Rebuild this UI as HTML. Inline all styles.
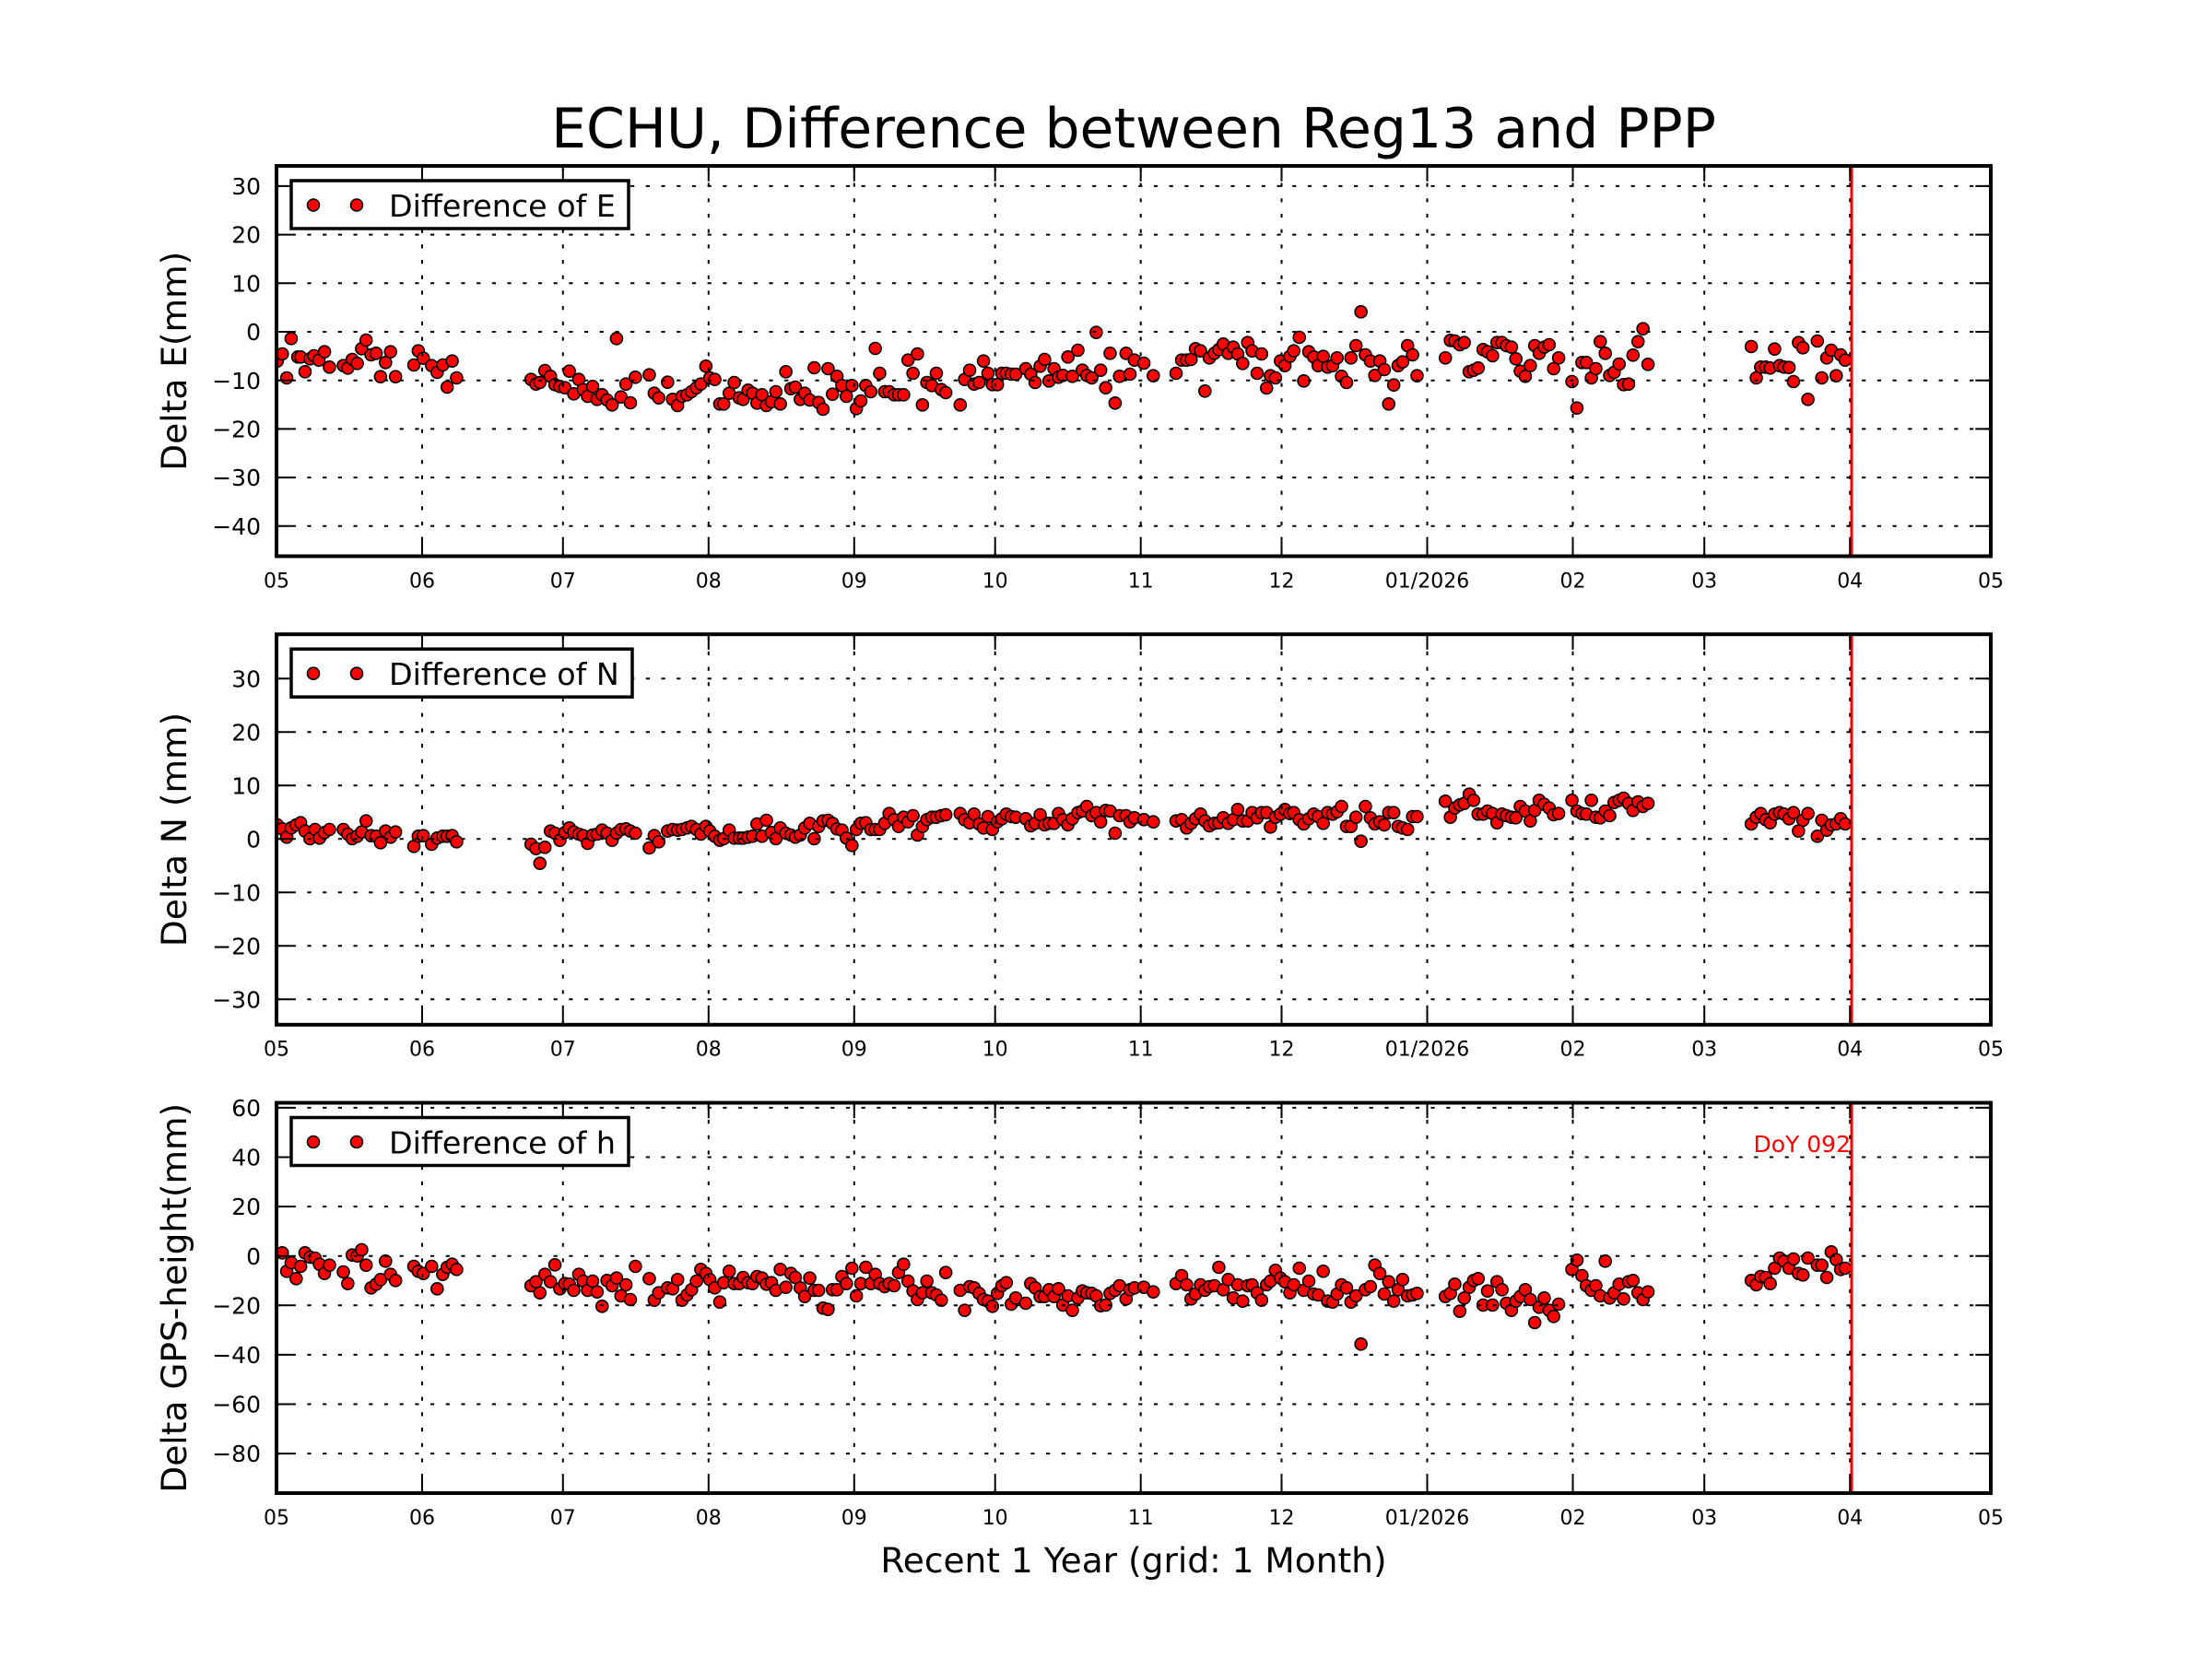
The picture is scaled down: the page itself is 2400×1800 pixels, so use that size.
<!DOCTYPE html>
<html><head><meta charset="utf-8"><style>
html,body{margin:0;padding:0;background:#fff;}
svg{display:block;font-family:"DejaVu Sans","Liberation Sans",sans-serif;}
</style></head><body>
<svg width="2400" height="1800" viewBox="0 0 2400 1800" xmlns="http://www.w3.org/2000/svg">
<defs>
<ellipse id="m" cx="0" cy="0" rx="10.79" ry="19.5" fill="#ff0000" stroke="#000" stroke-width="1.6" vector-effect="non-scaling-stroke"/>
<clipPath id="c1"><rect x="300" y="180" width="1860" height="423.5"/></clipPath>
<clipPath id="c2"><rect x="300" y="688.2" width="1860" height="423.6"/></clipPath>
<clipPath id="c3"><rect x="300" y="1196.5" width="1860" height="423.5"/></clipPath>
</defs>
<rect width="2400" height="1800" fill="#fff"/>

<text x="1230" y="160" font-size="60" text-anchor="middle">ECHU, Difference between Reg13 and PPP</text>

<!-- ================= PANEL 1 (E) ================= -->
<g clip-path="url(#c1)">
<g transform="translate(290 300) scale(0.60241 0.33333)">
<use href="#m" x="18" y="275"/><use href="#m" x="27" y="252"/><use href="#m" x="35" y="330"/><use href="#m" x="43" y="202"/><use href="#m" x="55" y="262"/><use href="#m" x="60" y="262"/><use href="#m" x="68" y="310"/><use href="#m" x="77" y="268"/><use href="#m" x="84" y="258"/><use href="#m" x="93" y="272"/><use href="#m" x="103" y="245"/><use href="#m" x="112" y="295"/><use href="#m" x="137" y="290"/><use href="#m" x="145" y="298"/><use href="#m" x="153" y="270"/><use href="#m" x="162" y="283"/><use href="#m" x="170" y="235"/><use href="#m" x="178" y="207"/><use href="#m" x="187" y="255"/><use href="#m" x="196" y="250"/><use href="#m" x="204" y="326"/><use href="#m" x="213" y="280"/><use href="#m" x="222" y="245"/><use href="#m" x="231" y="326"/>
<use href="#m" x="264" y="288"/><use href="#m" x="272" y="242"/><use href="#m" x="281" y="266"/><use href="#m" x="296" y="290"/><use href="#m" x="306" y="312"/><use href="#m" x="316" y="288"/><use href="#m" x="324" y="360"/><use href="#m" x="333" y="275"/><use href="#m" x="341" y="330"/>
<use href="#m" x="475" y="335"/><use href="#m" x="484" y="350"/><use href="#m" x="491" y="345"/><use href="#m" x="500" y="306"/><use href="#m" x="510" y="325"/><use href="#m" x="518" y="352"/><use href="#m" x="527" y="358"/><use href="#m" x="536" y="362"/><use href="#m" x="544" y="308"/><use href="#m" x="552" y="382"/><use href="#m" x="561" y="335"/><use href="#m" x="569" y="368"/><use href="#m" x="577" y="390"/><use href="#m" x="586" y="358"/><use href="#m" x="594" y="400"/><use href="#m" x="603" y="385"/><use href="#m" x="612" y="402"/><use href="#m" x="621" y="418"/><use href="#m" x="629" y="202"/><use href="#m" x="637" y="392"/><use href="#m" x="646" y="350"/><use href="#m" x="654" y="411"/><use href="#m" x="663" y="328"/><use href="#m" x="688" y="320"/><use href="#m" x="697" y="380"/><use href="#m" x="705" y="395"/><use href="#m" x="721" y="344"/><use href="#m" x="730" y="400"/><use href="#m" x="739" y="420"/><use href="#m" x="747" y="390"/><use href="#m" x="756" y="385"/><use href="#m" x="764" y="375"/><use href="#m" x="773" y="362"/><use href="#m" x="781" y="350"/><use href="#m" x="790" y="292"/><use href="#m" x="797" y="330"/><use href="#m" x="806" y="335"/><use href="#m" x="815" y="415"/><use href="#m" x="822" y="415"/><use href="#m" x="832" y="380"/><use href="#m" x="841" y="345"/><use href="#m" x="850" y="395"/><use href="#m" x="857" y="400"/><use href="#m" x="866" y="370"/><use href="#m" x="874" y="380"/><use href="#m" x="882" y="412"/><use href="#m" x="891" y="385"/><use href="#m" x="899" y="420"/><use href="#m" x="908" y="408"/><use href="#m" x="916" y="375"/><use href="#m" x="924" y="415"/><use href="#m" x="934" y="310"/><use href="#m" x="943" y="365"/><use href="#m" x="951" y="360"/><use href="#m" x="960" y="400"/><use href="#m" x="968" y="380"/><use href="#m" x="977" y="402"/><use href="#m" x="985" y="297"/><use href="#m" x="993" y="410"/><use href="#m" x="1001" y="432"/><use href="#m" x="1010" y="300"/><use href="#m" x="1018" y="383"/><use href="#m" x="1026" y="325"/><use href="#m" x="1035" y="355"/><use href="#m" x="1043" y="390"/><use href="#m" x="1053" y="355"/><use href="#m" x="1061" y="430"/><use href="#m" x="1069" y="405"/><use href="#m" x="1078" y="355"/><use href="#m" x="1087" y="375"/><use href="#m" x="1095" y="234"/><use href="#m" x="1103" y="315"/><use href="#m" x="1112" y="375"/><use href="#m" x="1120" y="375"/><use href="#m" x="1129" y="385"/><use href="#m" x="1137" y="385"/><use href="#m" x="1146" y="385"/><use href="#m" x="1154" y="272"/><use href="#m" x="1163" y="315"/><use href="#m" x="1171" y="252"/><use href="#m" x="1180" y="418"/><use href="#m" x="1188" y="345"/><use href="#m" x="1197" y="355"/><use href="#m" x="1205" y="315"/><use href="#m" x="1214" y="368"/><use href="#m" x="1222" y="378"/><use href="#m" x="1248" y="418"/><use href="#m" x="1256" y="335"/><use href="#m" x="1265" y="305"/><use href="#m" x="1273" y="350"/><use href="#m" x="1282" y="345"/><use href="#m" x="1290" y="275"/><use href="#m" x="1298" y="315"/><use href="#m" x="1306" y="352"/><use href="#m" x="1315" y="352"/><use href="#m" x="1323" y="315"/><use href="#m" x="1331" y="315"/><use href="#m" x="1340" y="318"/><use href="#m" x="1348" y="318"/><use href="#m" x="1366" y="300"/><use href="#m" x="1375" y="318"/><use href="#m" x="1383" y="345"/><use href="#m" x="1392" y="292"/><use href="#m" x="1400" y="270"/><use href="#m" x="1408" y="340"/><use href="#m" x="1417" y="300"/><use href="#m" x="1425" y="328"/><use href="#m" x="1433" y="322"/><use href="#m" x="1442" y="262"/><use href="#m" x="1450" y="325"/><use href="#m" x="1460" y="240"/><use href="#m" x="1468" y="305"/><use href="#m" x="1476" y="322"/><use href="#m" x="1485" y="330"/><use href="#m" x="1493" y="182"/><use href="#m" x="1501" y="305"/><use href="#m" x="1510" y="362"/><use href="#m" x="1518" y="250"/><use href="#m" x="1527" y="412"/><use href="#m" x="1535" y="325"/>
</g>
<g transform="translate(1220 300) scale(0.60241 0.33333)">
<use href="#m" x="3" y="250"/><use href="#m" x="10" y="318"/><use href="#m" x="18" y="272"/><use href="#m" x="35" y="282"/><use href="#m" x="52" y="323"/><use href="#m" x="93" y="315"/><use href="#m" x="103" y="272"/><use href="#m" x="112" y="272"/><use href="#m" x="120" y="270"/><use href="#m" x="128" y="235"/><use href="#m" x="137" y="242"/><use href="#m" x="145" y="373"/><use href="#m" x="153" y="265"/><use href="#m" x="162" y="250"/><use href="#m" x="170" y="238"/><use href="#m" x="178" y="220"/><use href="#m" x="187" y="250"/><use href="#m" x="196" y="230"/><use href="#m" x="204" y="252"/><use href="#m" x="213" y="283"/><use href="#m" x="222" y="215"/><use href="#m" x="230" y="242"/><use href="#m" x="239" y="315"/><use href="#m" x="247" y="252"/><use href="#m" x="256" y="363"/><use href="#m" x="263" y="323"/><use href="#m" x="272" y="330"/><use href="#m" x="281" y="275"/><use href="#m" x="289" y="290"/><use href="#m" x="298" y="260"/><use href="#m" x="305" y="242"/><use href="#m" x="315" y="198"/><use href="#m" x="323" y="340"/><use href="#m" x="332" y="245"/><use href="#m" x="341" y="262"/><use href="#m" x="349" y="290"/><use href="#m" x="358" y="260"/><use href="#m" x="366" y="295"/><use href="#m" x="375" y="290"/><use href="#m" x="383" y="265"/><use href="#m" x="391" y="325"/><use href="#m" x="400" y="345"/><use href="#m" x="408" y="265"/><use href="#m" x="417" y="225"/><use href="#m" x="426" y="115"/><use href="#m" x="434" y="255"/><use href="#m" x="443" y="275"/><use href="#m" x="451" y="322"/><use href="#m" x="460" y="275"/><use href="#m" x="468" y="303"/><use href="#m" x="476" y="415"/><use href="#m" x="485" y="353"/><use href="#m" x="493" y="290"/><use href="#m" x="501" y="278"/><use href="#m" x="510" y="225"/><use href="#m" x="519" y="255"/><use href="#m" x="527" y="323"/><use href="#m" x="578" y="265"/><use href="#m" x="587" y="208"/><use href="#m" x="595" y="210"/><use href="#m" x="604" y="222"/><use href="#m" x="612" y="215"/><use href="#m" x="621" y="310"/><use href="#m" x="629" y="305"/><use href="#m" x="637" y="298"/><use href="#m" x="646" y="238"/><use href="#m" x="654" y="245"/><use href="#m" x="663" y="258"/><use href="#m" x="671" y="215"/><use href="#m" x="680" y="215"/><use href="#m" x="688" y="225"/><use href="#m" x="697" y="230"/><use href="#m" x="705" y="268"/><use href="#m" x="713" y="308"/><use href="#m" x="722" y="325"/><use href="#m" x="731" y="290"/><use href="#m" x="739" y="225"/><use href="#m" x="747" y="250"/><use href="#m" x="756" y="230"/><use href="#m" x="765" y="222"/><use href="#m" x="773" y="300"/><use href="#m" x="782" y="265"/><use href="#m" x="806" y="342"/><use href="#m" x="815" y="428"/><use href="#m" x="824" y="280"/><use href="#m" x="832" y="280"/><use href="#m" x="841" y="330"/><use href="#m" x="849" y="300"/><use href="#m" x="857" y="212"/><use href="#m" x="866" y="250"/><use href="#m" x="874" y="322"/><use href="#m" x="882" y="312"/><use href="#m" x="891" y="285"/><use href="#m" x="899" y="352"/><use href="#m" x="908" y="350"/><use href="#m" x="916" y="256"/><use href="#m" x="925" y="212"/><use href="#m" x="934" y="170"/><use href="#m" x="943" y="286"/><use href="#m" x="1129" y="228"/><use href="#m" x="1138" y="330"/><use href="#m" x="1146" y="295"/><use href="#m" x="1155" y="295"/><use href="#m" x="1163" y="298"/><use href="#m" x="1171" y="236"/><use href="#m" x="1180" y="290"/><use href="#m" x="1188" y="295"/><use href="#m" x="1197" y="296"/><use href="#m" x="1205" y="342"/><use href="#m" x="1214" y="215"/><use href="#m" x="1222" y="232"/><use href="#m" x="1231" y="400"/><use href="#m" x="1248" y="210"/><use href="#m" x="1256" y="330"/><use href="#m" x="1265" y="265"/><use href="#m" x="1273" y="240"/><use href="#m" x="1282" y="323"/><use href="#m" x="1290" y="255"/><use href="#m" x="1298" y="272"/>
</g>
</g>
<line x1="2009" y1="180" x2="2009" y2="603.5" stroke="#ff0000" stroke-width="3"/>
<path fill="none" stroke="#000" stroke-width="2" stroke-dasharray="4.2 12.5" d="M300 201.9H2160M300 254.6H2160M300 307.3H2160M300 360H2160M300 412.7H2160M300 465.4H2160M300 518.1H2160M300 570.8H2160M458 603.5V180M610.8 603.5V180M768.8 603.5V180M926.8 603.5V180M1079.7 603.5V180M1237.7 603.5V180M1390.5 603.5V180M1548.5 603.5V180M1706.5 603.5V180M1849.2 603.5V180M2007.2 603.5V180"/>
<path fill="none" stroke="#000" stroke-width="2" d="M300 201.9h16.7M300 254.6h16.7M300 307.3h16.7M300 360h16.7M300 412.7h16.7M300 465.4h16.7M300 518.1h16.7M300 570.8h16.7M2160 201.9h-16.7M2160 254.6h-16.7M2160 307.3h-16.7M2160 360h-16.7M2160 412.7h-16.7M2160 465.4h-16.7M2160 518.1h-16.7M2160 570.8h-16.7M458 603.5v-16.7M610.8 603.5v-16.7M768.8 603.5v-16.7M926.8 603.5v-16.7M1079.7 603.5v-16.7M1237.7 603.5v-16.7M1390.5 603.5v-16.7M1548.5 603.5v-16.7M1706.5 603.5v-16.7M1849.2 603.5v-16.7M2007.2 603.5v-16.7M458 180v16.7M610.8 180v16.7M768.8 180v16.7M926.8 180v16.7M1079.7 180v16.7M1237.7 180v16.7M1390.5 180v16.7M1548.5 180v16.7M1706.5 180v16.7M1849.2 180v16.7M2007.2 180v16.7"/>
<rect x="300" y="180" width="1860" height="423.5" fill="none" stroke="#000" stroke-width="4"/>
<rect x="316" y="196" width="366" height="52" fill="#fff" stroke="#000" stroke-width="3.5"/>
<circle cx="340" cy="222.5" r="6.5" fill="#ff0000" stroke="#000" stroke-width="1.6"/>
<circle cx="387" cy="222.5" r="6.5" fill="#ff0000" stroke="#000" stroke-width="1.6"/>
<text x="422" y="235" font-size="33.3">Difference of E</text>
<g font-size="25" text-anchor="end">
<text x="283" y="211">30</text><text x="283" y="263.7">20</text><text x="283" y="316.4">10</text><text x="283" y="369.1">0</text><text x="283" y="421.8">−10</text><text x="283" y="474.5">−20</text><text x="283" y="527.2">−30</text><text x="283" y="579.9">−40</text>
</g>
<g font-size="22" text-anchor="middle">
<text x="300" y="637.3">05</text><text x="458" y="637.3">06</text><text x="610.8" y="637.3">07</text><text x="768.8" y="637.3">08</text><text x="926.8" y="637.3">09</text><text x="1079.7" y="637.3">10</text><text x="1237.7" y="637.3">11</text><text x="1390.5" y="637.3">12</text><text x="1548.5" y="637.3">01/2026</text><text x="1706.5" y="637.3">02</text><text x="1849.2" y="637.3">03</text><text x="2007.2" y="637.3">04</text><text x="2160" y="637.3">05</text>
</g>
<text transform="translate(202 391.75) rotate(-90)" font-size="37.5" text-anchor="middle">Delta E(mm)</text>

<!-- ================= PANEL 2 (N) ================= -->
<g clip-path="url(#c2)">
<g transform="translate(290 830) scale(0.60241 0.33333)">
<use href="#m" x="18" y="195"/><use href="#m" x="27" y="208"/><use href="#m" x="35" y="235"/><use href="#m" x="43" y="205"/><use href="#m" x="52" y="195"/><use href="#m" x="60" y="188"/><use href="#m" x="68" y="215"/><use href="#m" x="77" y="240"/><use href="#m" x="86" y="210"/><use href="#m" x="94" y="238"/><use href="#m" x="103" y="220"/><use href="#m" x="112" y="210"/><use href="#m" x="137" y="210"/><use href="#m" x="145" y="225"/><use href="#m" x="153" y="240"/><use href="#m" x="162" y="232"/><use href="#m" x="170" y="218"/><use href="#m" x="178" y="182"/><use href="#m" x="187" y="230"/><use href="#m" x="196" y="232"/><use href="#m" x="204" y="253"/><use href="#m" x="213" y="215"/><use href="#m" x="222" y="235"/><use href="#m" x="231" y="218"/>
<use href="#m" x="264" y="265"/><use href="#m" x="272" y="232"/><use href="#m" x="281" y="230"/><use href="#m" x="296" y="258"/><use href="#m" x="306" y="238"/><use href="#m" x="316" y="232"/><use href="#m" x="324" y="232"/><use href="#m" x="333" y="230"/><use href="#m" x="341" y="250"/>
<use href="#m" x="475" y="258"/><use href="#m" x="484" y="272"/><use href="#m" x="491" y="320"/><use href="#m" x="500" y="268"/><use href="#m" x="510" y="215"/><use href="#m" x="518" y="222"/><use href="#m" x="527" y="245"/><use href="#m" x="536" y="220"/><use href="#m" x="544" y="205"/><use href="#m" x="552" y="218"/><use href="#m" x="561" y="225"/><use href="#m" x="569" y="230"/><use href="#m" x="577" y="255"/><use href="#m" x="586" y="228"/><use href="#m" x="594" y="225"/><use href="#m" x="603" y="212"/><use href="#m" x="612" y="222"/><use href="#m" x="621" y="245"/><use href="#m" x="629" y="222"/><use href="#m" x="637" y="210"/><use href="#m" x="646" y="208"/><use href="#m" x="654" y="215"/><use href="#m" x="663" y="222"/><use href="#m" x="688" y="270"/><use href="#m" x="697" y="230"/><use href="#m" x="705" y="250"/><use href="#m" x="721" y="215"/><use href="#m" x="730" y="210"/><use href="#m" x="739" y="212"/><use href="#m" x="747" y="210"/><use href="#m" x="756" y="205"/><use href="#m" x="764" y="200"/><use href="#m" x="773" y="210"/><use href="#m" x="781" y="225"/><use href="#m" x="790" y="200"/><use href="#m" x="797" y="215"/><use href="#m" x="806" y="232"/><use href="#m" x="815" y="245"/><use href="#m" x="822" y="240"/><use href="#m" x="832" y="212"/><use href="#m" x="841" y="238"/><use href="#m" x="850" y="238"/><use href="#m" x="857" y="238"/><use href="#m" x="866" y="235"/><use href="#m" x="874" y="232"/><use href="#m" x="882" y="192"/><use href="#m" x="891" y="232"/><use href="#m" x="899" y="180"/><use href="#m" x="908" y="220"/><use href="#m" x="916" y="240"/><use href="#m" x="924" y="205"/><use href="#m" x="934" y="222"/><use href="#m" x="943" y="228"/><use href="#m" x="951" y="235"/><use href="#m" x="960" y="228"/><use href="#m" x="968" y="205"/><use href="#m" x="977" y="190"/><use href="#m" x="985" y="240"/><use href="#m" x="993" y="200"/><use href="#m" x="1001" y="182"/><use href="#m" x="1010" y="180"/><use href="#m" x="1018" y="190"/><use href="#m" x="1026" y="208"/><use href="#m" x="1035" y="212"/><use href="#m" x="1043" y="238"/><use href="#m" x="1053" y="262"/><use href="#m" x="1061" y="210"/><use href="#m" x="1069" y="190"/><use href="#m" x="1078" y="188"/><use href="#m" x="1087" y="210"/><use href="#m" x="1095" y="210"/><use href="#m" x="1103" y="210"/><use href="#m" x="1112" y="190"/><use href="#m" x="1120" y="158"/><use href="#m" x="1129" y="178"/><use href="#m" x="1137" y="200"/><use href="#m" x="1146" y="170"/><use href="#m" x="1154" y="185"/><use href="#m" x="1163" y="165"/><use href="#m" x="1171" y="228"/><use href="#m" x="1180" y="200"/><use href="#m" x="1188" y="178"/><use href="#m" x="1197" y="170"/><use href="#m" x="1205" y="170"/><use href="#m" x="1214" y="165"/><use href="#m" x="1222" y="162"/><use href="#m" x="1248" y="158"/><use href="#m" x="1256" y="178"/><use href="#m" x="1265" y="188"/><use href="#m" x="1273" y="160"/><use href="#m" x="1282" y="192"/><use href="#m" x="1290" y="205"/><use href="#m" x="1298" y="168"/><use href="#m" x="1306" y="210"/><use href="#m" x="1315" y="185"/><use href="#m" x="1323" y="175"/><use href="#m" x="1331" y="160"/><use href="#m" x="1340" y="168"/><use href="#m" x="1348" y="170"/><use href="#m" x="1366" y="175"/><use href="#m" x="1375" y="198"/><use href="#m" x="1383" y="190"/><use href="#m" x="1392" y="162"/><use href="#m" x="1400" y="195"/><use href="#m" x="1408" y="190"/><use href="#m" x="1417" y="190"/><use href="#m" x="1425" y="158"/><use href="#m" x="1433" y="178"/><use href="#m" x="1442" y="195"/><use href="#m" x="1450" y="175"/><use href="#m" x="1460" y="155"/><use href="#m" x="1468" y="150"/><use href="#m" x="1476" y="135"/><use href="#m" x="1485" y="165"/><use href="#m" x="1493" y="155"/><use href="#m" x="1501" y="185"/><use href="#m" x="1510" y="148"/><use href="#m" x="1518" y="150"/><use href="#m" x="1527" y="222"/><use href="#m" x="1535" y="165"/>
</g>
<g transform="translate(1220 830) scale(0.60241 0.33333)">
<use href="#m" x="3" y="165"/><use href="#m" x="10" y="185"/><use href="#m" x="18" y="172"/><use href="#m" x="35" y="178"/><use href="#m" x="52" y="185"/><use href="#m" x="93" y="182"/><use href="#m" x="103" y="178"/><use href="#m" x="112" y="205"/><use href="#m" x="120" y="190"/><use href="#m" x="128" y="175"/><use href="#m" x="137" y="160"/><use href="#m" x="145" y="182"/><use href="#m" x="153" y="198"/><use href="#m" x="162" y="190"/><use href="#m" x="170" y="188"/><use href="#m" x="178" y="172"/><use href="#m" x="187" y="190"/><use href="#m" x="196" y="178"/><use href="#m" x="204" y="145"/><use href="#m" x="213" y="182"/><use href="#m" x="222" y="182"/><use href="#m" x="230" y="155"/><use href="#m" x="239" y="172"/><use href="#m" x="247" y="155"/><use href="#m" x="256" y="155"/><use href="#m" x="263" y="202"/><use href="#m" x="272" y="170"/><use href="#m" x="281" y="160"/><use href="#m" x="289" y="145"/><use href="#m" x="298" y="158"/><use href="#m" x="305" y="155"/><use href="#m" x="315" y="178"/><use href="#m" x="323" y="192"/><use href="#m" x="332" y="175"/><use href="#m" x="341" y="160"/><use href="#m" x="349" y="168"/><use href="#m" x="358" y="190"/><use href="#m" x="366" y="155"/><use href="#m" x="375" y="160"/><use href="#m" x="383" y="152"/><use href="#m" x="391" y="135"/><use href="#m" x="400" y="200"/><use href="#m" x="408" y="200"/><use href="#m" x="417" y="170"/><use href="#m" x="426" y="248"/><use href="#m" x="434" y="135"/><use href="#m" x="443" y="172"/><use href="#m" x="451" y="192"/><use href="#m" x="460" y="185"/><use href="#m" x="468" y="195"/><use href="#m" x="476" y="155"/><use href="#m" x="485" y="155"/><use href="#m" x="493" y="200"/><use href="#m" x="501" y="205"/><use href="#m" x="510" y="210"/><use href="#m" x="519" y="168"/><use href="#m" x="527" y="168"/><use href="#m" x="578" y="118"/><use href="#m" x="587" y="170"/><use href="#m" x="595" y="140"/><use href="#m" x="604" y="130"/><use href="#m" x="612" y="125"/><use href="#m" x="621" y="95"/><use href="#m" x="629" y="115"/><use href="#m" x="637" y="160"/><use href="#m" x="646" y="160"/><use href="#m" x="654" y="150"/><use href="#m" x="663" y="158"/><use href="#m" x="671" y="188"/><use href="#m" x="680" y="160"/><use href="#m" x="688" y="165"/><use href="#m" x="697" y="170"/><use href="#m" x="705" y="172"/><use href="#m" x="713" y="135"/><use href="#m" x="722" y="150"/><use href="#m" x="731" y="182"/><use href="#m" x="739" y="148"/><use href="#m" x="747" y="115"/><use href="#m" x="756" y="128"/><use href="#m" x="765" y="140"/><use href="#m" x="773" y="162"/><use href="#m" x="782" y="158"/><use href="#m" x="806" y="115"/><use href="#m" x="815" y="150"/><use href="#m" x="824" y="158"/><use href="#m" x="832" y="160"/><use href="#m" x="841" y="115"/><use href="#m" x="849" y="170"/><use href="#m" x="857" y="172"/><use href="#m" x="866" y="150"/><use href="#m" x="874" y="165"/><use href="#m" x="882" y="122"/><use href="#m" x="891" y="115"/><use href="#m" x="899" y="108"/><use href="#m" x="908" y="125"/><use href="#m" x="916" y="148"/><use href="#m" x="925" y="120"/><use href="#m" x="934" y="135"/><use href="#m" x="943" y="125"/><use href="#m" x="1129" y="192"/><use href="#m" x="1138" y="170"/><use href="#m" x="1146" y="158"/><use href="#m" x="1155" y="178"/><use href="#m" x="1163" y="188"/><use href="#m" x="1171" y="160"/><use href="#m" x="1180" y="155"/><use href="#m" x="1188" y="160"/><use href="#m" x="1197" y="175"/><use href="#m" x="1205" y="155"/><use href="#m" x="1214" y="215"/><use href="#m" x="1222" y="180"/><use href="#m" x="1231" y="158"/><use href="#m" x="1248" y="232"/><use href="#m" x="1256" y="180"/><use href="#m" x="1265" y="212"/><use href="#m" x="1273" y="195"/><use href="#m" x="1282" y="192"/><use href="#m" x="1290" y="175"/><use href="#m" x="1298" y="192"/>
</g>
</g>
<line x1="2009" y1="688.2" x2="2009" y2="1111.8" stroke="#ff0000" stroke-width="3"/>
<path fill="none" stroke="#000" stroke-width="2" stroke-dasharray="4.2 12.5" d="M300 736.3H2160M300 794.3H2160M300 852.3H2160M300 910.3H2160M300 968.3H2160M300 1026.3H2160M300 1084.3H2160M458 1111.8V688.2M610.8 1111.8V688.2M768.8 1111.8V688.2M926.8 1111.8V688.2M1079.7 1111.8V688.2M1237.7 1111.8V688.2M1390.5 1111.8V688.2M1548.5 1111.8V688.2M1706.5 1111.8V688.2M1849.2 1111.8V688.2M2007.2 1111.8V688.2"/>
<path fill="none" stroke="#000" stroke-width="2" d="M300 736.3h16.7M300 794.3h16.7M300 852.3h16.7M300 910.3h16.7M300 968.3h16.7M300 1026.3h16.7M300 1084.3h16.7M2160 736.3h-16.7M2160 794.3h-16.7M2160 852.3h-16.7M2160 910.3h-16.7M2160 968.3h-16.7M2160 1026.3h-16.7M2160 1084.3h-16.7M458 1111.8v-16.7M610.8 1111.8v-16.7M768.8 1111.8v-16.7M926.8 1111.8v-16.7M1079.7 1111.8v-16.7M1237.7 1111.8v-16.7M1390.5 1111.8v-16.7M1548.5 1111.8v-16.7M1706.5 1111.8v-16.7M1849.2 1111.8v-16.7M2007.2 1111.8v-16.7M458 688.2v16.7M610.8 688.2v16.7M768.8 688.2v16.7M926.8 688.2v16.7M1079.7 688.2v16.7M1237.7 688.2v16.7M1390.5 688.2v16.7M1548.5 688.2v16.7M1706.5 688.2v16.7M1849.2 688.2v16.7M2007.2 688.2v16.7"/>
<rect x="300" y="688.2" width="1860" height="423.6" fill="none" stroke="#000" stroke-width="4"/>
<rect x="316" y="704.2" width="370" height="52" fill="#fff" stroke="#000" stroke-width="3.5"/>
<circle cx="340" cy="730.7" r="6.5" fill="#ff0000" stroke="#000" stroke-width="1.6"/>
<circle cx="387" cy="730.7" r="6.5" fill="#ff0000" stroke="#000" stroke-width="1.6"/>
<text x="422" y="743.2" font-size="33.3">Difference of N</text>
<g font-size="25" text-anchor="end">
<text x="283" y="745.4">30</text><text x="283" y="803.4">20</text><text x="283" y="861.4">10</text><text x="283" y="919.4">0</text><text x="283" y="977.4">−10</text><text x="283" y="1035.4">−20</text><text x="283" y="1093.4">−30</text>
</g>
<g font-size="22" text-anchor="middle">
<text x="300" y="1145.6">05</text><text x="458" y="1145.6">06</text><text x="610.8" y="1145.6">07</text><text x="768.8" y="1145.6">08</text><text x="926.8" y="1145.6">09</text><text x="1079.7" y="1145.6">10</text><text x="1237.7" y="1145.6">11</text><text x="1390.5" y="1145.6">12</text><text x="1548.5" y="1145.6">01/2026</text><text x="1706.5" y="1145.6">02</text><text x="1849.2" y="1145.6">03</text><text x="2007.2" y="1145.6">04</text><text x="2160" y="1145.6">05</text>
</g>
<text transform="translate(202 900) rotate(-90)" font-size="37.5" text-anchor="middle">Delta N (mm)</text>

<!-- ================= PANEL 3 (h) ================= -->
<g clip-path="url(#c3)">
<g transform="translate(290 1340) scale(0.60241 0.33333)">
<use href="#m" x="27" y="58"/><use href="#m" x="35" y="118"/><use href="#m" x="43" y="90"/><use href="#m" x="52" y="142"/><use href="#m" x="60" y="102"/><use href="#m" x="68" y="58"/><use href="#m" x="77" y="72"/><use href="#m" x="86" y="75"/><use href="#m" x="94" y="95"/><use href="#m" x="103" y="125"/><use href="#m" x="112" y="98"/><use href="#m" x="137" y="120"/><use href="#m" x="145" y="158"/><use href="#m" x="153" y="65"/><use href="#m" x="162" y="68"/><use href="#m" x="170" y="48"/><use href="#m" x="178" y="98"/><use href="#m" x="187" y="172"/><use href="#m" x="196" y="160"/><use href="#m" x="204" y="145"/><use href="#m" x="213" y="85"/><use href="#m" x="222" y="128"/><use href="#m" x="231" y="148"/>
<use href="#m" x="264" y="102"/><use href="#m" x="272" y="118"/><use href="#m" x="281" y="125"/><use href="#m" x="296" y="102"/><use href="#m" x="306" y="175"/><use href="#m" x="316" y="128"/><use href="#m" x="324" y="105"/><use href="#m" x="333" y="95"/><use href="#m" x="341" y="112"/>
<use href="#m" x="475" y="165"/><use href="#m" x="484" y="152"/><use href="#m" x="491" y="188"/><use href="#m" x="500" y="128"/><use href="#m" x="510" y="152"/><use href="#m" x="518" y="97"/><use href="#m" x="527" y="175"/><use href="#m" x="536" y="158"/><use href="#m" x="544" y="160"/><use href="#m" x="552" y="180"/><use href="#m" x="561" y="128"/><use href="#m" x="569" y="150"/><use href="#m" x="577" y="180"/><use href="#m" x="586" y="150"/><use href="#m" x="594" y="185"/><use href="#m" x="603" y="232"/><use href="#m" x="612" y="148"/><use href="#m" x="621" y="165"/><use href="#m" x="629" y="140"/><use href="#m" x="637" y="198"/><use href="#m" x="646" y="162"/><use href="#m" x="654" y="210"/><use href="#m" x="663" y="102"/><use href="#m" x="688" y="142"/><use href="#m" x="697" y="212"/><use href="#m" x="705" y="188"/><use href="#m" x="721" y="172"/><use href="#m" x="730" y="175"/><use href="#m" x="739" y="145"/><use href="#m" x="747" y="212"/><use href="#m" x="756" y="195"/><use href="#m" x="764" y="178"/><use href="#m" x="773" y="150"/><use href="#m" x="781" y="112"/><use href="#m" x="790" y="125"/><use href="#m" x="797" y="145"/><use href="#m" x="806" y="172"/><use href="#m" x="815" y="218"/><use href="#m" x="822" y="155"/><use href="#m" x="832" y="118"/><use href="#m" x="841" y="158"/><use href="#m" x="850" y="158"/><use href="#m" x="857" y="138"/><use href="#m" x="866" y="155"/><use href="#m" x="874" y="158"/><use href="#m" x="882" y="135"/><use href="#m" x="891" y="140"/><use href="#m" x="899" y="160"/><use href="#m" x="908" y="155"/><use href="#m" x="916" y="180"/><use href="#m" x="924" y="112"/><use href="#m" x="934" y="170"/><use href="#m" x="943" y="125"/><use href="#m" x="951" y="138"/><use href="#m" x="960" y="172"/><use href="#m" x="968" y="200"/><use href="#m" x="977" y="140"/><use href="#m" x="985" y="180"/><use href="#m" x="993" y="180"/><use href="#m" x="1001" y="238"/><use href="#m" x="1010" y="242"/><use href="#m" x="1018" y="178"/><use href="#m" x="1026" y="178"/><use href="#m" x="1035" y="135"/><use href="#m" x="1043" y="158"/><use href="#m" x="1053" y="108"/><use href="#m" x="1061" y="198"/><use href="#m" x="1069" y="158"/><use href="#m" x="1078" y="105"/><use href="#m" x="1087" y="158"/><use href="#m" x="1095" y="128"/><use href="#m" x="1103" y="158"/><use href="#m" x="1112" y="168"/><use href="#m" x="1120" y="158"/><use href="#m" x="1129" y="165"/><use href="#m" x="1137" y="122"/><use href="#m" x="1146" y="95"/><use href="#m" x="1154" y="150"/><use href="#m" x="1163" y="182"/><use href="#m" x="1171" y="210"/><use href="#m" x="1180" y="188"/><use href="#m" x="1188" y="150"/><use href="#m" x="1197" y="188"/><use href="#m" x="1205" y="195"/><use href="#m" x="1214" y="212"/><use href="#m" x="1222" y="122"/><use href="#m" x="1248" y="180"/><use href="#m" x="1256" y="245"/><use href="#m" x="1265" y="168"/><use href="#m" x="1273" y="172"/><use href="#m" x="1282" y="190"/><use href="#m" x="1290" y="210"/><use href="#m" x="1298" y="215"/><use href="#m" x="1306" y="232"/><use href="#m" x="1315" y="190"/><use href="#m" x="1323" y="165"/><use href="#m" x="1331" y="155"/><use href="#m" x="1340" y="225"/><use href="#m" x="1348" y="205"/><use href="#m" x="1366" y="222"/><use href="#m" x="1375" y="158"/><use href="#m" x="1383" y="172"/><use href="#m" x="1392" y="200"/><use href="#m" x="1400" y="200"/><use href="#m" x="1408" y="178"/><use href="#m" x="1417" y="200"/><use href="#m" x="1425" y="175"/><use href="#m" x="1433" y="228"/><use href="#m" x="1442" y="198"/><use href="#m" x="1450" y="245"/><use href="#m" x="1460" y="205"/><use href="#m" x="1468" y="182"/><use href="#m" x="1476" y="188"/><use href="#m" x="1485" y="190"/><use href="#m" x="1493" y="198"/><use href="#m" x="1501" y="230"/><use href="#m" x="1510" y="228"/><use href="#m" x="1518" y="190"/><use href="#m" x="1527" y="180"/><use href="#m" x="1535" y="165"/>
</g>
<g transform="translate(1220 1340) scale(0.60241 0.33333)">
<use href="#m" x="3" y="208"/><use href="#m" x="10" y="178"/><use href="#m" x="18" y="172"/><use href="#m" x="35" y="170"/><use href="#m" x="52" y="185"/><use href="#m" x="93" y="158"/><use href="#m" x="103" y="132"/><use href="#m" x="112" y="162"/><use href="#m" x="120" y="208"/><use href="#m" x="128" y="192"/><use href="#m" x="137" y="162"/><use href="#m" x="145" y="180"/><use href="#m" x="153" y="168"/><use href="#m" x="162" y="165"/><use href="#m" x="170" y="105"/><use href="#m" x="178" y="178"/><use href="#m" x="187" y="145"/><use href="#m" x="196" y="205"/><use href="#m" x="204" y="162"/><use href="#m" x="213" y="215"/><use href="#m" x="222" y="165"/><use href="#m" x="230" y="162"/><use href="#m" x="239" y="188"/><use href="#m" x="247" y="212"/><use href="#m" x="256" y="162"/><use href="#m" x="263" y="150"/><use href="#m" x="272" y="115"/><use href="#m" x="281" y="140"/><use href="#m" x="289" y="152"/><use href="#m" x="298" y="188"/><use href="#m" x="305" y="162"/><use href="#m" x="315" y="108"/><use href="#m" x="323" y="180"/><use href="#m" x="332" y="150"/><use href="#m" x="341" y="192"/><use href="#m" x="349" y="195"/><use href="#m" x="358" y="118"/><use href="#m" x="366" y="215"/><use href="#m" x="375" y="218"/><use href="#m" x="383" y="192"/><use href="#m" x="391" y="162"/><use href="#m" x="400" y="172"/><use href="#m" x="408" y="218"/><use href="#m" x="417" y="198"/><use href="#m" x="426" y="355"/><use href="#m" x="434" y="178"/><use href="#m" x="443" y="168"/><use href="#m" x="451" y="98"/><use href="#m" x="460" y="125"/><use href="#m" x="468" y="192"/><use href="#m" x="476" y="152"/><use href="#m" x="485" y="215"/><use href="#m" x="493" y="178"/><use href="#m" x="501" y="145"/><use href="#m" x="510" y="198"/><use href="#m" x="519" y="195"/><use href="#m" x="527" y="190"/><use href="#m" x="578" y="200"/><use href="#m" x="587" y="190"/><use href="#m" x="595" y="160"/><use href="#m" x="604" y="248"/><use href="#m" x="612" y="205"/><use href="#m" x="621" y="170"/><use href="#m" x="629" y="148"/><use href="#m" x="637" y="142"/><use href="#m" x="646" y="228"/><use href="#m" x="654" y="182"/><use href="#m" x="663" y="228"/><use href="#m" x="671" y="152"/><use href="#m" x="680" y="178"/><use href="#m" x="688" y="222"/><use href="#m" x="697" y="245"/><use href="#m" x="705" y="215"/><use href="#m" x="713" y="200"/><use href="#m" x="722" y="178"/><use href="#m" x="731" y="210"/><use href="#m" x="739" y="285"/><use href="#m" x="747" y="235"/><use href="#m" x="756" y="205"/><use href="#m" x="765" y="245"/><use href="#m" x="773" y="265"/><use href="#m" x="782" y="225"/><use href="#m" x="806" y="112"/><use href="#m" x="815" y="82"/><use href="#m" x="824" y="132"/><use href="#m" x="832" y="165"/><use href="#m" x="841" y="180"/><use href="#m" x="849" y="165"/><use href="#m" x="857" y="198"/><use href="#m" x="866" y="85"/><use href="#m" x="874" y="205"/><use href="#m" x="882" y="188"/><use href="#m" x="891" y="160"/><use href="#m" x="899" y="208"/><use href="#m" x="908" y="152"/><use href="#m" x="916" y="148"/><use href="#m" x="925" y="188"/><use href="#m" x="934" y="210"/><use href="#m" x="943" y="185"/><use href="#m" x="1129" y="148"/><use href="#m" x="1138" y="162"/><use href="#m" x="1146" y="135"/><use href="#m" x="1155" y="138"/><use href="#m" x="1163" y="158"/><use href="#m" x="1171" y="108"/><use href="#m" x="1180" y="75"/><use href="#m" x="1188" y="85"/><use href="#m" x="1197" y="108"/><use href="#m" x="1205" y="78"/><use href="#m" x="1214" y="125"/><use href="#m" x="1222" y="130"/><use href="#m" x="1231" y="75"/><use href="#m" x="1248" y="98"/><use href="#m" x="1256" y="98"/><use href="#m" x="1265" y="138"/><use href="#m" x="1273" y="55"/><use href="#m" x="1282" y="80"/><use href="#m" x="1290" y="112"/><use href="#m" x="1298" y="108"/>
</g>
</g>
<line x1="2009" y1="1196.5" x2="2009" y2="1620" stroke="#ff0000" stroke-width="3"/>
<path fill="none" stroke="#000" stroke-width="2" stroke-dasharray="4.2 12.5" d="M300 1201.9H2160M300 1255.5H2160M300 1309.1H2160M300 1362.7H2160M300 1416.3H2160M300 1469.9H2160M300 1523.5H2160M300 1577.1H2160M458 1620V1196.5M610.8 1620V1196.5M768.8 1620V1196.5M926.8 1620V1196.5M1079.7 1620V1196.5M1237.7 1620V1196.5M1390.5 1620V1196.5M1548.5 1620V1196.5M1706.5 1620V1196.5M1849.2 1620V1196.5M2007.2 1620V1196.5"/>
<path fill="none" stroke="#000" stroke-width="2" d="M300 1201.9h16.7M300 1255.5h16.7M300 1309.1h16.7M300 1362.7h16.7M300 1416.3h16.7M300 1469.9h16.7M300 1523.5h16.7M300 1577.1h16.7M2160 1201.9h-16.7M2160 1255.5h-16.7M2160 1309.1h-16.7M2160 1362.7h-16.7M2160 1416.3h-16.7M2160 1469.9h-16.7M2160 1523.5h-16.7M2160 1577.1h-16.7M458 1620v-16.7M610.8 1620v-16.7M768.8 1620v-16.7M926.8 1620v-16.7M1079.7 1620v-16.7M1237.7 1620v-16.7M1390.5 1620v-16.7M1548.5 1620v-16.7M1706.5 1620v-16.7M1849.2 1620v-16.7M2007.2 1620v-16.7M458 1196.5v16.7M610.8 1196.5v16.7M768.8 1196.5v16.7M926.8 1196.5v16.7M1079.7 1196.5v16.7M1237.7 1196.5v16.7M1390.5 1196.5v16.7M1548.5 1196.5v16.7M1706.5 1196.5v16.7M1849.2 1196.5v16.7M2007.2 1196.5v16.7"/>
<rect x="300" y="1196.5" width="1860" height="423.5" fill="none" stroke="#000" stroke-width="4"/>
<rect x="316" y="1212.5" width="366" height="52" fill="#fff" stroke="#000" stroke-width="3.5"/>
<circle cx="340" cy="1239" r="6.5" fill="#ff0000" stroke="#000" stroke-width="1.6"/>
<circle cx="387" cy="1239" r="6.5" fill="#ff0000" stroke="#000" stroke-width="1.6"/>
<text x="422" y="1251.5" font-size="33.3">Difference of h</text>
<text x="2008" y="1250" font-size="25" fill="#ff0000" text-anchor="end">DoY 092</text>
<g font-size="25" text-anchor="end">
<text x="283" y="1211">60</text><text x="283" y="1264.6">40</text><text x="283" y="1318.2">20</text><text x="283" y="1371.8">0</text><text x="283" y="1425.4">−20</text><text x="283" y="1479">−40</text><text x="283" y="1532.6">−60</text><text x="283" y="1586.2">−80</text>
</g>
<g font-size="22" text-anchor="middle">
<text x="300" y="1653.8">05</text><text x="458" y="1653.8">06</text><text x="610.8" y="1653.8">07</text><text x="768.8" y="1653.8">08</text><text x="926.8" y="1653.8">09</text><text x="1079.7" y="1653.8">10</text><text x="1237.7" y="1653.8">11</text><text x="1390.5" y="1653.8">12</text><text x="1548.5" y="1653.8">01/2026</text><text x="1706.5" y="1653.8">02</text><text x="1849.2" y="1653.8">03</text><text x="2007.2" y="1653.8">04</text><text x="2160" y="1653.8">05</text>
</g>
<text transform="translate(202 1408.25) rotate(-90)" font-size="37.5" text-anchor="middle">Delta GPS-height(mm)</text>

<text x="1230" y="1706" font-size="37.5" text-anchor="middle">Recent 1 Year (grid: 1 Month)</text>
</svg>
</body></html>
